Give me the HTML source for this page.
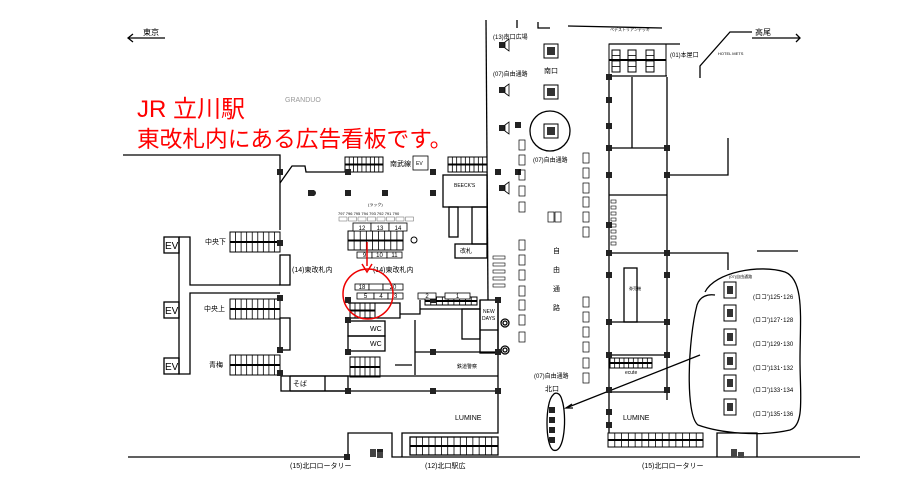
<!DOCTYPE html>
<html><head><meta charset="utf-8"><style>
html,body{margin:0;padding:0;background:#fff;}
svg{display:block;font-family:"Liberation Sans","Noto Sans CJK JP",sans-serif;}
.t{font-size:7px;fill:#000}
</style></head><body>
<svg id="m" width="919" height="491" viewBox="0 0 919 491" xmlns="http://www.w3.org/2000/svg">
<g fill="none" stroke="#000" stroke-width="1.3">
<line x1="128" y1="38" x2="165" y2="38"/><polyline points="133,34 128,38 133,42"/>
<line x1="752" y1="38" x2="800" y2="38"/><polyline points="796,34 800,38 796,42"/>
<polyline points="123,155 280,155 280,230"/>
<polyline points="280,183 292,166 305,166 306,172 348,172"/>
<line x1="486" y1="20" x2="488" y2="300"/>
<polyline points="517,20 517,28"/>
<polyline points="538,22 538,28 550,28"/><polyline points="568,26 662,28"/>
<rect x="164" y="237" width="15" height="16"/><rect x="164" y="302" width="15" height="16"/><rect x="164" y="358" width="15" height="16"/>
<polyline points="179,237 190,237 190,285 280,285"/>
<polyline points="280,293 190,293 190,374 179,374 179,237"/>
<rect x="280" y="255" width="10" height="30"/><rect x="280" y="318" width="10" height="32"/>
<rect x="281" y="376" width="67" height="15"/><line x1="325" y1="376" x2="325" y2="391"/>
<line x1="128" y1="457" x2="348" y2="457"/>
<polyline points="348,457 348,433 392,433 392,457 860,457"/>
<polyline points="402,457 402,433 498,433 498,300"/>
<line x1="290" y1="376" x2="498" y2="376"/><line x1="290" y1="391" x2="498" y2="391"/>
<line x1="290" y1="376" x2="290" y2="391"/>
<rect x="348" y="321" width="37" height="15"/><rect x="348" y="336" width="37" height="15"/>
<polyline points="348,303 400,303 400,318 348,318"/>
<polyline points="400,314 420,314 420,300"/>
<polyline points="420,309 480,309 480,300"/>
<line x1="480" y1="330" x2="498" y2="330"/><rect x="480" y="300" width="18" height="53"/>
<rect x="462" y="309" width="18" height="30"/>
<line x1="415" y1="352" x2="498" y2="352"/><line x1="415" y1="320" x2="415" y2="375"/>
<rect x="443" y="175" width="44" height="32"/><rect x="449" y="207" width="9" height="30"/>
<rect x="472" y="207" width="15" height="37"/><rect x="455" y="244" width="32" height="14"/>
<circle cx="505" cy="323" r="4"/><circle cx="505" cy="350" r="4"/>
<circle cx="505" cy="323" r="2"/><circle cx="505" cy="350" r="2"/>
<rect x="410" y="437" width="88" height="18"/>
<!-- right buildings -->
<polyline points="609,77 609,433"/>
<polyline points="667,77 667,400"/>
<line x1="632" y1="77" x2="632" y2="148"/>
<line x1="609" y1="148" x2="667" y2="148"/>
<polyline points="667,175 728,175 728,138"/>
<line x1="609" y1="195" x2="667" y2="195"/>
<polyline points="609,253 728,253 728,270"/>
<rect x="624" y="268" width="13" height="54"/>
<line x1="609" y1="322" x2="667" y2="322"/>
<line x1="609" y1="355" x2="667" y2="355"/>
<line x1="609" y1="392" x2="667" y2="392"/>
<polyline points="700,78 700,66 730,32 752,32"/>
<polyline points="717,457 717,433 757,433 757,457"/>
<line x1="757" y1="251" x2="798" y2="251"/>
<line x1="700" y1="355" x2="566" y2="408"/>
<polyline points="572,404 566,408 573,408"/>
<line x1="412" y1="365" x2="395" y2="365"/>
<path d="M705,292 C715,272 760,264 785,272 C805,280 800,320 800,360 C800,395 805,425 790,430 C760,437 720,433 698,425 C685,415 688,340 697,305 C700,296 708,294 715,295"/>
<path d="M553,395 C545,402 545,445 553,450 C565,455 567,415 562,400 C560,392 555,392 553,395 Z"/>
<circle cx="550" cy="131" r="20"/>
<polyline points="609,44 680,44"/><polyline points="609,76 667,76"/>
</g>
<g id="gen"></g>
<g class="t">
<text x="143" y="35" font-size="8">東京</text>
<text x="755" y="35" font-size="8">高尾</text>
<text x="285" y="102" font-size="7" fill="#999">GRANDUO</text>
<text x="390" y="166">南武線</text><rect x="413" y="156" width="15" height="14" fill="none" stroke="#000" stroke-width=".8"/><text x="416" y="165" font-size="5">EV</text>
<text x="165" y="249" font-size="10">EV</text><text x="165" y="314" font-size="10">EV</text><text x="165" y="370" font-size="10">EV</text>
<text x="205" y="244">中央下</text><text x="204" y="311">中央上</text><text x="209" y="367">青梅</text>
<text x="292" y="272">(14)東改札内</text><text x="373" y="272">(14)東改札内</text>
<text x="293" y="386">そば</text>
<text x="370" y="331">WC</text><text x="370" y="346">WC</text>
<text x="457" y="368" font-size="5">鉄道警察</text>
<text x="460" y="253" font-size="6">改札</text>
<text x="454" y="187" font-size="5">BEECK'S</text>
<text x="483" y="313" font-size="5">NEW</text><text x="482" y="320" font-size="5">DAYS</text>
<text x="455" y="420">LUMINE</text><text x="623" y="420">LUMINE</text>
<text x="625" y="374" font-size="5">ecute</text>
<text x="629" y="290" font-size="4">券売機</text>
<text x="290" y="468">(15)北口ロータリー</text>
<text x="425" y="468">(12)北口駅広</text>
<text x="642" y="468">(15)北口ロータリー</text>
<text x="493" y="39" font-size="6">(13)南口広場</text>
<text x="493" y="76" font-size="6">(07)自由通路</text>
<text x="544" y="73">南口</text>
<text x="533" y="162" font-size="6">(07)自由通路</text>
<text x="670" y="57" font-size="6">(01)本屋口</text>
<text x="718" y="55" font-size="4">HOTEL METS</text>
<text x="610" y="31" font-size="4">ペデストリアンデッキ</text>
<text x="553" y="253">自</text><text x="553" y="272">由</text><text x="553" y="291">通</text><text x="553" y="310">路</text>
<text x="534" y="378" font-size="6">(07)自由通路</text>
<text x="545" y="391">北口</text>
<text x="368" y="206" font-size="4">(ラック)</text>
<text x="338" y="215" font-size="4">797 796 795 794 793 792 791 790</text>
<text x="729" y="278" font-size="4">(07)自由通路</text>
<text x="753" y="299" font-size="6">(ロコ')125･126</text>
<text x="753" y="322" font-size="6">(ロコ')127･128</text>
<text x="753" y="346" font-size="6">(ロコ')129･130</text>
<text x="753" y="370" font-size="6">(ロコ')131･132</text>
<text x="753" y="392" font-size="6">(ロコ')133･134</text>
<text x="753" y="416" font-size="6">(ロコ')135･136</text>
</g>
<text x="137" y="117" font-size="24" fill="#f00">JR 立川駅</text>
<text x="137" y="147" font-size="22.7" fill="#f00">東改札内にある広告看板です。</text>
<circle cx="368" cy="294" r="25" fill="none" stroke="#e00" stroke-width="1.5"/>
<line x1="367" y1="242" x2="367" y2="266" stroke="#e00" stroke-width="1.5"/>
<polyline points="362,264 367,272 372,264" fill="none" stroke="#e00" stroke-width="1.5"/>
</svg>
<script>
var g=document.getElementById('gen'),h='';
function st(x,y,w,hh,n){h+='<rect x="'+x+'" y="'+y+'" width="'+w+'" height="'+hh+'" fill="none" stroke="#000" stroke-width="1"/>';
 h+='<line x1="'+x+'" y1="'+(y+hh/2)+'" x2="'+(x+w)+'" y2="'+(y+hh/2)+'" stroke="#000" stroke-width="2"/>';
 for(var i=1;i<n;i++){var xx=x+w*i/n;h+='<line x1="'+xx+'" y1="'+y+'" x2="'+xx+'" y2="'+(y+hh)+'" stroke="#000" stroke-width=".8"/>';}}
function vst(x,y,w,hh,n){h+='<rect x="'+x+'" y="'+y+'" width="'+w+'" height="'+hh+'" fill="none" stroke="#000" stroke-width="1"/>';
 for(var i=1;i<n;i++){var yy=y+hh*i/n;h+='<line x1="'+x+'" y1="'+yy+'" x2="'+(x+w)+'" y2="'+yy+'" stroke="#000" stroke-width=".8"/>';}}
st(345,157,38,15,9);st(448,157,39,15,9);
st(230,232,50,20,9);st(230,299,50,20,9);st(230,355,50,20,9);
st(348,231,55,19,9);st(350,303,25,15,5);st(350,357,30,20,6);
st(425,297,52,8,9);st(410,437,88,18,14);st(608,433,95,14,14);st(610,358,42,10,9);
st(609,44,57,32,1);
vst(612,50,8,22,4);vst(628,50,8,22,4);vst(646,50,8,22,4);
for(var i=0;i<8;i++){h+='<rect x="611" y="'+(200+i*6)+'" width="5" height="3" fill="none" stroke="#000" stroke-width=".6"/>';}
function sq(x,y){h+='<rect x="'+(x-3)+'" y="'+(y-3)+'" width="6" height="6" fill="#222"/>';}
[[280,172],[348,193],[385,193],[433,193],[280,243],[280,298],[280,350],[280,373],[348,300],[348,320],[348,352],[433,300],[348,391],[433,352],[433,391],[498,300],[498,352],[498,391],[498,172],[433,172],[348,172],[311,193],[347,457],[518,125],[518,172],[609,77],[609,100],[609,126],[609,175],[667,175],[609,148],[667,148],[609,225],[609,253],[667,253],[609,275],[667,275],[609,322],[667,322],[609,355],[667,355],[609,390],[667,390],[609,412],[609,425],[552,410],[552,420],[552,430],[552,440],[380,452]].forEach(function(p){sq(p[0],p[1]);});
function lb(x,y,w,hh,t){h+='<rect x="'+x+'" y="'+y+'" width="'+w+'" height="'+hh+'" fill="#fff" stroke="#000" stroke-width=".8"/><text x="'+(x+w/2)+'" y="'+(y+hh-1)+'" font-size="6" text-anchor="middle">'+t+'</text>';}
lb(353,223,18,8,'12');lb(371,223,18,8,'13');lb(389,223,18,8,'14');
lb(357,252,15,6,'9');lb(372,252,15,6,'10');lb(387,252,15,6,'11');
lb(355,284,14,6,'18');lb(369,284,14,6,'');lb(383,284,20,6,'20');
lb(357,293,17,6,'5');lb(374,293,14,6,'4');lb(388,293,15,6,'3');lb(418,293,18,6,'2');lb(445,293,25,6,'1');
for(var i=0;i<8;i++){h+='<rect x="'+(339+i*9.5)+'" y="217" width="8" height="4" fill="none" stroke="#666" stroke-width=".5"/>';}
for(var i=0;i<5;i++){h+='<rect x="493" y="'+(256+i*7)+'" width="12" height="3" fill="none" stroke="#000" stroke-width=".6"/>';}
[140,155,170,186,202,240,255,270,286,300,315,332].forEach(function(y){h+='<rect x="519" y="'+y+'" width="6" height="10" fill="none" stroke="#000" stroke-width=".7"/>';});
[153,168,183,197,212,227,297,312,327,342,358,373].forEach(function(y){h+='<rect x="583" y="'+y+'" width="6" height="10" fill="none" stroke="#000" stroke-width=".7"/>';});
[45,90,128,188].forEach(function(y){h+='<rect x="499" y="'+(y-3)+'" width="6" height="6" fill="#222"/><path d="M505,'+(y-3)+' l4,-3 v12 l-4,-3z" fill="none" stroke="#000" stroke-width=".8"/>';});
[[551,51],[551,92],[551,131]].forEach(function(p){h+='<rect x="'+(p[0]-7)+'" y="'+(p[1]-7)+'" width="14" height="14" fill="none" stroke="#000" stroke-width="1"/><rect x="'+(p[0]-4)+'" y="'+(p[1]-4)+'" width="8" height="8" fill="#333"/>';});
[290,313,337,361,383,407].forEach(function(y){h+='<rect x="724" y="'+(y-8)+'" width="12" height="16" fill="none" stroke="#000" stroke-width="1"/><rect x="727" y="'+(y-4)+'" width="6" height="8" fill="#333"/>';});
h+='<rect x="548" y="212" width="6" height="10" fill="none" stroke="#000" stroke-width=".7"/><rect x="555" y="212" width="6" height="10" fill="none" stroke="#000" stroke-width=".7"/>';
h+='<rect x="370" y="449" width="6" height="8" fill="#444"/><rect x="377" y="452" width="6" height="6" fill="#444"/><rect x="731" y="449" width="6" height="8" fill="#444"/><rect x="738" y="452" width="6" height="6" fill="#444"/>';
h+='<circle cx="313" cy="193" r="3" fill="#222"/><circle cx="414" cy="240" r="3" fill="none" stroke="#000"/>';
g.innerHTML=h;
</script>
</body></html>
